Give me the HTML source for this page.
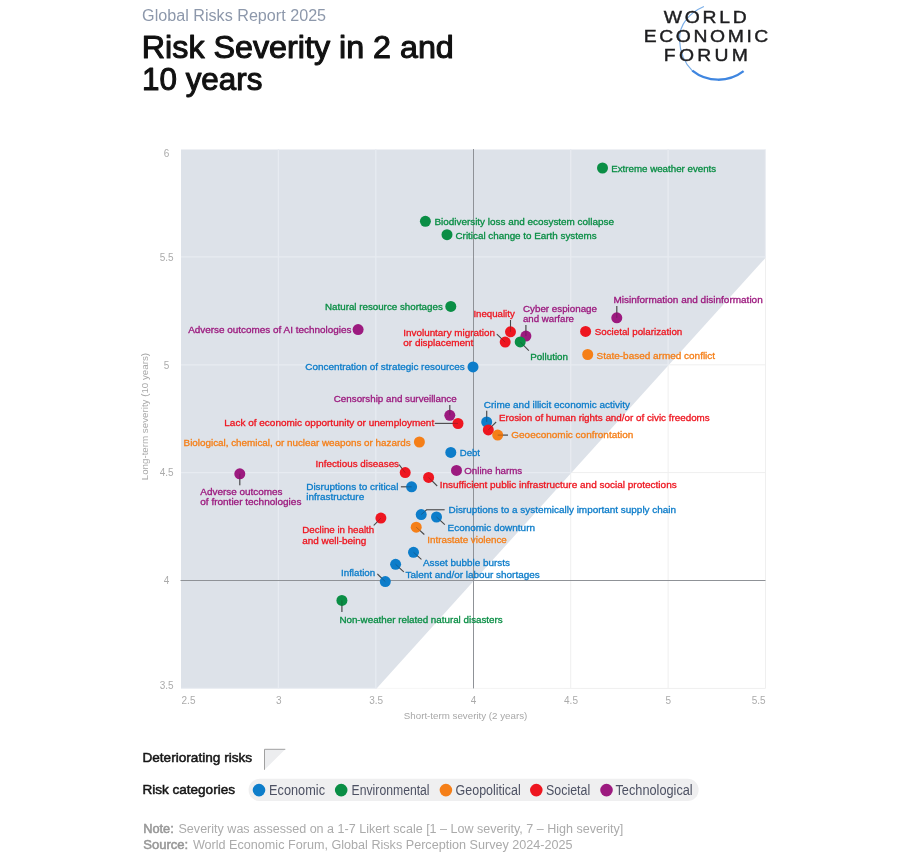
<!DOCTYPE html>
<html lang="en"><head><meta charset="utf-8"><title>Risk Severity in 2 and 10 years</title>
<style>html,body{margin:0;padding:0;background:#fff}body{width:923px;height:866px;overflow:hidden}svg{display:block}text{font-family:"Liberation Sans",Arial,Helvetica,sans-serif}.lb{font-size:9px;stroke-width:.3px;paint-order:stroke}.tk{font-size:10px;fill:#ababab}</style></head><body>
<svg width="923" height="866" viewBox="0 0 923 866">
<rect width="923" height="866" fill="#fff"/>
<defs>
<clipPath id="cg"><polygon points="181.0,149.0 765.5,149.0 765.5,257.9 376.6,688.4 181.0,688.4"/></clipPath>
<clipPath id="cw"><polygon points="376.6,688.4 766.5,256.9 766.5,689.4"/></clipPath>
</defs>
<polygon points="181.0,149.4 765.5,149.4 765.5,257.9 376.6,688.4 181.0,688.4" fill="#dde2e9"/>
<g clip-path="url(#cg)" stroke="#e7ebf1" stroke-width="1.3"><line x1="278.4" y1="149.0" x2="278.4" y2="688.4"/><line x1="375.8" y1="149.0" x2="375.8" y2="688.4"/><line x1="570.7" y1="149.0" x2="570.7" y2="688.4"/><line x1="668.1" y1="149.0" x2="668.1" y2="688.4"/><line x1="765.5" y1="149.0" x2="765.5" y2="688.4"/><line x1="181.0" y1="688.4" x2="765.5" y2="688.4"/><line x1="181.0" y1="472.6" x2="765.5" y2="472.6"/><line x1="181.0" y1="364.8" x2="765.5" y2="364.8"/><line x1="181.0" y1="256.9" x2="765.5" y2="256.9"/></g>
<g clip-path="url(#cw)" stroke="#efefef" stroke-width="1"><line x1="278.4" y1="149.0" x2="278.4" y2="688.4"/><line x1="375.8" y1="149.0" x2="375.8" y2="688.4"/><line x1="570.7" y1="149.0" x2="570.7" y2="688.4"/><line x1="668.1" y1="149.0" x2="668.1" y2="688.4"/><line x1="765.5" y1="149.0" x2="765.5" y2="688.4"/><line x1="181.0" y1="688.4" x2="765.5" y2="688.4"/><line x1="181.0" y1="472.6" x2="765.5" y2="472.6"/><line x1="181.0" y1="364.8" x2="765.5" y2="364.8"/><line x1="181.0" y1="256.9" x2="765.5" y2="256.9"/></g>
<g stroke="#8f9297" stroke-width="1"><line x1="473.5" y1="149.0" x2="473.5" y2="688.4"/><line x1="180.5" y1="580.5" x2="765.5" y2="580.5"/></g>
<text class="tk" x="166.6" y="156.7" text-anchor="middle">6</text>
<text class="tk" x="166.6" y="260.6" text-anchor="middle">5.5</text>
<text class="tk" x="166.6" y="368.5" text-anchor="middle">5</text>
<text class="tk" x="166.6" y="476.3" text-anchor="middle">4.5</text>
<text class="tk" x="166.6" y="584.2" text-anchor="middle">4</text>
<text class="tk" x="166.6" y="688.5" text-anchor="middle">3.5</text>
<text class="tk" x="188.5" y="703.7" text-anchor="middle">2.5</text>
<text class="tk" x="278.7" y="703.7" text-anchor="middle">3</text>
<text class="tk" x="376.1" y="703.7" text-anchor="middle">3.5</text>
<text class="tk" x="473.6" y="703.7" text-anchor="middle">4</text>
<text class="tk" x="571.0" y="703.7" text-anchor="middle">4.5</text>
<text class="tk" x="668.4" y="703.7" text-anchor="middle">5</text>
<text class="tk" x="758.7" y="703.7" text-anchor="middle">5.5</text>
<text x="403.8" y="719.3" font-size="9.8" fill="#a8a8a8" textLength="123.5" lengthAdjust="spacingAndGlyphs">Short-term severity (2 years)</text>
<text transform="translate(148.0,480.3) rotate(-90)" font-size="9.8" fill="#a8a8a8" textLength="127.4" lengthAdjust="spacingAndGlyphs">Long-term severity (10 years)</text>
<g fill="none" stroke="#3a3a3a" stroke-opacity=".8" stroke-width="1.1"><polyline points="510.5,320.0 510.5,331.8"/><polyline points="496.8,334.1 505.2,342.1"/><polyline points="525.9,325.0 525.9,336.1"/><polyline points="520.2,341.9 528.8,350.7"/><polyline points="616.8,306.0 616.8,317.8"/><polyline points="449.8,405.0 449.8,415.3"/><polyline points="434.8,423.4 458.0,423.4"/><polyline points="486.7,410.8 486.7,422.0"/><polyline points="488.3,429.9 496.1,422.0"/><polyline points="497.7,435.1 508.0,435.1"/><polyline points="399.0,464.5 405.2,472.6"/><polyline points="428.6,477.4 437.2,486.0"/><polyline points="400.9,486.8 411.6,486.8"/><polyline points="239.8,473.8 239.8,485.3"/><polyline points="380.9,518.1 373.8,525.4"/><polyline points="421.2,514.6 426.6,509.8 444.6,509.8"/><polyline points="436.5,517.0 444.8,524.6"/><polyline points="416.2,527.2 424.3,534.5"/><polyline points="413.5,552.3 421.4,559.4"/><polyline points="395.6,564.3 403.8,571.9"/><polyline points="377.4,574.0 385.3,581.6"/><polyline points="341.9,600.4 341.9,611.9"/></g>
<circle cx="602.5" cy="168.0" r="5.5" fill="#0a8e45"/>
<circle cx="425.4" cy="221.3" r="5.5" fill="#0a8e45"/>
<circle cx="447.0" cy="234.7" r="5.5" fill="#0a8e45"/>
<circle cx="450.8" cy="306.4" r="5.5" fill="#0a8e45"/>
<circle cx="358.1" cy="329.6" r="5.5" fill="#9c1a7f"/>
<circle cx="510.5" cy="331.8" r="5.5" fill="#ee1620"/>
<circle cx="505.2" cy="342.1" r="5.5" fill="#ee1620"/>
<circle cx="525.9" cy="336.1" r="5.5" fill="#9c1a7f"/>
<circle cx="520.2" cy="341.9" r="5.5" fill="#0a8e45"/>
<circle cx="616.8" cy="317.8" r="5.5" fill="#9c1a7f"/>
<circle cx="585.6" cy="331.4" r="5.5" fill="#ee1620"/>
<circle cx="587.7" cy="354.5" r="5.5" fill="#f57f18"/>
<circle cx="473.0" cy="366.9" r="5.5" fill="#0d7dca"/>
<circle cx="449.8" cy="415.3" r="5.5" fill="#9c1a7f"/>
<circle cx="458.0" cy="423.5" r="5.5" fill="#ee1620"/>
<circle cx="486.7" cy="422.0" r="5.5" fill="#0d7dca"/>
<circle cx="488.3" cy="429.9" r="5.5" fill="#ee1620"/>
<circle cx="497.7" cy="435.1" r="5.5" fill="#f57f18"/>
<circle cx="419.4" cy="442.0" r="5.5" fill="#f57f18"/>
<circle cx="450.8" cy="452.4" r="5.5" fill="#0d7dca"/>
<circle cx="456.5" cy="470.4" r="5.5" fill="#9c1a7f"/>
<circle cx="405.2" cy="472.6" r="5.5" fill="#ee1620"/>
<circle cx="428.6" cy="477.4" r="5.5" fill="#ee1620"/>
<circle cx="411.6" cy="486.8" r="5.5" fill="#0d7dca"/>
<circle cx="239.8" cy="473.8" r="5.5" fill="#9c1a7f"/>
<circle cx="380.9" cy="518.1" r="5.5" fill="#ee1620"/>
<circle cx="421.2" cy="514.6" r="5.5" fill="#0d7dca"/>
<circle cx="436.5" cy="517.0" r="5.5" fill="#0d7dca"/>
<circle cx="416.2" cy="527.2" r="5.5" fill="#f57f18"/>
<circle cx="413.5" cy="552.3" r="5.5" fill="#0d7dca"/>
<circle cx="395.6" cy="564.3" r="5.5" fill="#0d7dca"/>
<circle cx="385.3" cy="581.6" r="5.5" fill="#0d7dca"/>
<circle cx="341.9" cy="600.4" r="5.5" fill="#0a8e45"/>
<g fill="none" stroke="#222" stroke-opacity=".3" stroke-width="1"><polyline points="510.5,320.0 510.5,331.8"/><polyline points="496.8,334.1 505.2,342.1"/><polyline points="525.9,325.0 525.9,336.1"/><polyline points="520.2,341.9 528.8,350.7"/><polyline points="616.8,306.0 616.8,317.8"/><polyline points="449.8,405.0 449.8,415.3"/><polyline points="434.8,423.4 458.0,423.4"/><polyline points="486.7,410.8 486.7,422.0"/><polyline points="488.3,429.9 496.1,422.0"/><polyline points="497.7,435.1 508.0,435.1"/><polyline points="399.0,464.5 405.2,472.6"/><polyline points="428.6,477.4 437.2,486.0"/><polyline points="400.9,486.8 411.6,486.8"/><polyline points="239.8,473.8 239.8,485.3"/><polyline points="380.9,518.1 373.8,525.4"/><polyline points="421.2,514.6 426.6,509.8 444.6,509.8"/><polyline points="436.5,517.0 444.8,524.6"/><polyline points="416.2,527.2 424.3,534.5"/><polyline points="413.5,552.3 421.4,559.4"/><polyline points="395.6,564.3 403.8,571.9"/><polyline points="377.4,574.0 385.3,581.6"/><polyline points="341.9,600.4 341.9,611.9"/></g>
<text class="lb" x="611.2" y="172.4" fill="#0a8e45" stroke="#0a8e45" textLength="105.0" lengthAdjust="spacingAndGlyphs">Extreme weather events</text>
<text class="lb" x="434.4" y="224.9" fill="#0a8e45" stroke="#0a8e45" textLength="179.6" lengthAdjust="spacingAndGlyphs">Biodiversity loss and ecosystem collapse</text>
<text class="lb" x="455.5" y="239.4" fill="#0a8e45" stroke="#0a8e45" textLength="141.1" lengthAdjust="spacingAndGlyphs">Critical change to Earth systems</text>
<text class="lb" x="325.0" y="310.4" fill="#0a8e45" stroke="#0a8e45" textLength="117.8" lengthAdjust="spacingAndGlyphs">Natural resource shortages</text>
<text class="lb" x="188.2" y="333.3" fill="#9c1a7f" stroke="#9c1a7f" textLength="163.2" lengthAdjust="spacingAndGlyphs">Adverse outcomes of AI technologies</text>
<text class="lb" x="473.4" y="316.6" fill="#ee1620" stroke="#ee1620" textLength="41.4" lengthAdjust="spacingAndGlyphs">Inequality</text>
<text class="lb" x="403.3" y="335.7" fill="#ee1620" stroke="#ee1620" textLength="91.6" lengthAdjust="spacingAndGlyphs">Involuntary migration</text>
<text class="lb" x="403.3" y="345.8" fill="#ee1620" stroke="#ee1620" textLength="70.1" lengthAdjust="spacingAndGlyphs">or displacement</text>
<text class="lb" x="523.0" y="312.3" fill="#9c1a7f" stroke="#9c1a7f" textLength="74.0" lengthAdjust="spacingAndGlyphs">Cyber espionage</text>
<text class="lb" x="523.0" y="322.1" fill="#9c1a7f" stroke="#9c1a7f" textLength="51.0" lengthAdjust="spacingAndGlyphs">and warfare</text>
<text class="lb" x="530.3" y="360.2" fill="#0a8e45" stroke="#0a8e45" textLength="37.7" lengthAdjust="spacingAndGlyphs">Pollution</text>
<text class="lb" x="613.5" y="303.0" fill="#9c1a7f" stroke="#9c1a7f" textLength="149.2" lengthAdjust="spacingAndGlyphs">Misinformation and disinformation</text>
<text class="lb" x="594.7" y="335.4" fill="#ee1620" stroke="#ee1620" textLength="87.6" lengthAdjust="spacingAndGlyphs">Societal polarization</text>
<text class="lb" x="596.5" y="358.5" fill="#f57f18" stroke="#f57f18" textLength="118.6" lengthAdjust="spacingAndGlyphs">State-based armed conflict</text>
<text class="lb" x="305.3" y="370.1" fill="#0d7dca" stroke="#0d7dca" textLength="159.4" lengthAdjust="spacingAndGlyphs">Concentration of strategic resources</text>
<text class="lb" x="333.8" y="401.8" fill="#9c1a7f" stroke="#9c1a7f" textLength="122.9" lengthAdjust="spacingAndGlyphs">Censorship and surveillance</text>
<text class="lb" x="224.3" y="426.0" fill="#ee1620" stroke="#ee1620" textLength="209.9" lengthAdjust="spacingAndGlyphs">Lack of economic opportunity or unemployment</text>
<text class="lb" x="483.7" y="408.4" fill="#0d7dca" stroke="#0d7dca" textLength="146.3" lengthAdjust="spacingAndGlyphs">Crime and illicit economic activity</text>
<text class="lb" x="498.9" y="421.4" fill="#ee1620" stroke="#ee1620" textLength="210.8" lengthAdjust="spacingAndGlyphs">Erosion of human rights and/or of civic freedoms</text>
<text class="lb" x="511.3" y="438.1" fill="#f57f18" stroke="#f57f18" textLength="122.0" lengthAdjust="spacingAndGlyphs">Geoeconomic confrontation</text>
<text class="lb" x="183.6" y="445.7" fill="#f57f18" stroke="#f57f18" textLength="227.0" lengthAdjust="spacingAndGlyphs">Biological, chemical, or nuclear weapons or hazards</text>
<text class="lb" x="459.7" y="456.4" fill="#0d7dca" stroke="#0d7dca" textLength="20.3" lengthAdjust="spacingAndGlyphs">Debt</text>
<text class="lb" x="464.3" y="474.2" fill="#9c1a7f" stroke="#9c1a7f" textLength="57.9" lengthAdjust="spacingAndGlyphs">Online harms</text>
<text class="lb" x="315.6" y="467.3" fill="#ee1620" stroke="#ee1620" textLength="83.4" lengthAdjust="spacingAndGlyphs">Infectious diseases</text>
<text class="lb" x="439.7" y="488.2" fill="#ee1620" stroke="#ee1620" textLength="237.0" lengthAdjust="spacingAndGlyphs">Insufficient public infrastructure and social protections</text>
<text class="lb" x="306.2" y="490.0" fill="#0d7dca" stroke="#0d7dca" textLength="92.2" lengthAdjust="spacingAndGlyphs">Disruptions to critical</text>
<text class="lb" x="306.2" y="499.8" fill="#0d7dca" stroke="#0d7dca" textLength="58.0" lengthAdjust="spacingAndGlyphs">infrastructure</text>
<text class="lb" x="200.3" y="494.8" fill="#9c1a7f" stroke="#9c1a7f" textLength="82.2" lengthAdjust="spacingAndGlyphs">Adverse outcomes</text>
<text class="lb" x="200.3" y="504.9" fill="#9c1a7f" stroke="#9c1a7f" textLength="101.1" lengthAdjust="spacingAndGlyphs">of frontier technologies</text>
<text class="lb" x="302.3" y="533.1" fill="#ee1620" stroke="#ee1620" textLength="71.9" lengthAdjust="spacingAndGlyphs">Decline in health</text>
<text class="lb" x="302.3" y="543.7" fill="#ee1620" stroke="#ee1620" textLength="64.0" lengthAdjust="spacingAndGlyphs">and well-being</text>
<text class="lb" x="448.5" y="513.4" fill="#0d7dca" stroke="#0d7dca" textLength="227.6" lengthAdjust="spacingAndGlyphs">Disruptions to a systemically important supply chain</text>
<text class="lb" x="447.6" y="530.6" fill="#0d7dca" stroke="#0d7dca" textLength="87.4" lengthAdjust="spacingAndGlyphs">Economic downturn</text>
<text class="lb" x="427.3" y="542.9" fill="#f57f18" stroke="#f57f18" textLength="79.5" lengthAdjust="spacingAndGlyphs">Intrastate violence</text>
<text class="lb" x="422.9" y="565.7" fill="#0d7dca" stroke="#0d7dca" textLength="87.1" lengthAdjust="spacingAndGlyphs">Asset bubble bursts</text>
<text class="lb" x="405.6" y="577.7" fill="#0d7dca" stroke="#0d7dca" textLength="134.1" lengthAdjust="spacingAndGlyphs">Talent and/or labour shortages</text>
<text class="lb" x="341.0" y="575.9" fill="#0d7dca" stroke="#0d7dca" textLength="34.2" lengthAdjust="spacingAndGlyphs">Inflation</text>
<text class="lb" x="339.4" y="622.8" fill="#0a8e45" stroke="#0a8e45" textLength="163.3" lengthAdjust="spacingAndGlyphs">Non-weather related natural disasters</text>
<text x="142.1" y="21.2" font-size="16" fill="#8d98ab" textLength="184" lengthAdjust="spacingAndGlyphs">Global Risks Report 2025</text>
<g font-size="31.3" fill="#111" stroke="#111" stroke-width="1.05" stroke-linejoin="round"><text x="141.8" y="58.0" textLength="312" lengthAdjust="spacingAndGlyphs">Risk Severity in 2 and</text><text x="142.0" y="90.1" textLength="120.4" lengthAdjust="spacingAndGlyphs">10 years</text></g>
<g id="logo">
<path d="M703.9,6.5 C690,12.5 679.2,24 679.5,39.5 C679.8,52 685,63.5 692.6,71.2" fill="none" stroke="#7aaee8" stroke-width="1.15"/>
<path d="M692.3,70.6 A41.7,41.7 0 0 0 743.6,71.2" fill="none" stroke="#3f86e0" stroke-width="2.3"/>
<g font-size="16.4" fill="#1d1d1f" stroke="#1d1d1f" stroke-width=".4">
<text x="0" y="23" style="letter-spacing:2.3px" transform="translate(663.8,0) scale(1.18,1)">WORLD</text>
<text x="0" y="41.9" style="letter-spacing:2.2px" transform="translate(643.8,0) scale(1.18,1)">ECONOMIC</text>
<text x="0" y="60.8" style="letter-spacing:2.8px" transform="translate(663.8,0) scale(1.18,1)">FORUM</text>
</g></g>
<g font-size="13.3" fill="#151515" stroke="#151515" stroke-width=".5"><text x="142.4" y="762" textLength="109.8" lengthAdjust="spacingAndGlyphs">Deteriorating risks</text><text x="142.4" y="794.2" textLength="92.6" lengthAdjust="spacingAndGlyphs">Risk categories</text></g>
<polygon points="264.5,749.3 285.3,749.3 264.5,769.8" fill="#ecedef"/><polyline points="264.5,769.8 264.5,749.3 285.3,749.3" fill="none" stroke="#a0a0a0" stroke-width="1"/>
<rect x="248.6" y="778.8" width="450" height="22.2" rx="11.1" fill="#efeff0"/>
<circle cx="259.0" cy="790.1" r="6.3" fill="#0d7dca"/>
<text x="269.1" y="795" font-size="14" fill="#4d5163" textLength="55.9" lengthAdjust="spacingAndGlyphs">Economic</text>
<circle cx="341.2" cy="790.1" r="6.3" fill="#0a8e45"/>
<text x="351.6" y="795" font-size="14" fill="#4d5163" textLength="78.0" lengthAdjust="spacingAndGlyphs">Environmental</text>
<circle cx="445.9" cy="790.1" r="6.3" fill="#f57f18"/>
<text x="455.6" y="795" font-size="14" fill="#4d5163" textLength="65.1" lengthAdjust="spacingAndGlyphs">Geopolitical</text>
<circle cx="536.3" cy="790.1" r="6.3" fill="#ee1620"/>
<text x="546.1" y="795" font-size="14" fill="#4d5163" textLength="44.1" lengthAdjust="spacingAndGlyphs">Societal</text>
<circle cx="606.5" cy="790.1" r="6.3" fill="#9c1a7f"/>
<text x="615.5" y="795" font-size="14" fill="#4d5163" textLength="77.2" lengthAdjust="spacingAndGlyphs">Technological</text>
<g font-size="12.3" fill="#ababab">
<text x="143.2" y="832.7" fill="#979797" stroke="#979797" stroke-width=".5" textLength="30.6" lengthAdjust="spacingAndGlyphs">Note:</text>
<text x="178.5" y="832.7" textLength="444.8" lengthAdjust="spacingAndGlyphs">Severity was assessed on a 1-7 Likert scale [1 – Low severity, 7 – High severity]</text>
<text x="143.2" y="849.3" fill="#979797" stroke="#979797" stroke-width=".5" textLength="45" lengthAdjust="spacingAndGlyphs">Source:</text>
<text x="192.9" y="849.3" textLength="379.7" lengthAdjust="spacingAndGlyphs">World Economic Forum, Global Risks Perception Survey 2024-2025</text>
</g>
</svg></body></html>
